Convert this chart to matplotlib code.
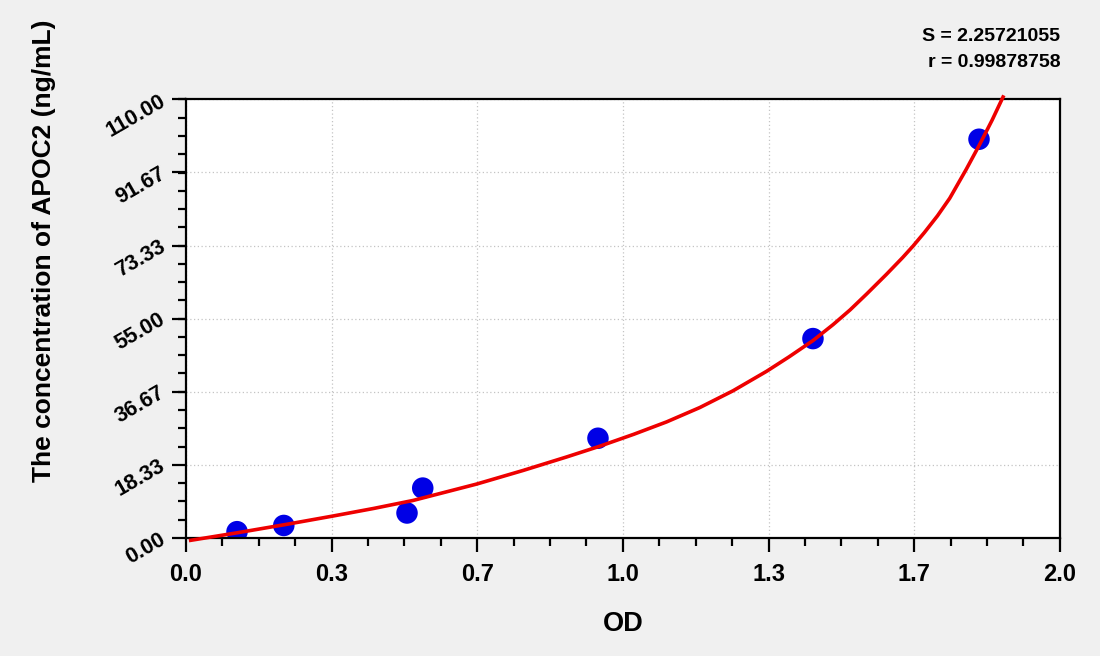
import matplotlib.pyplot as plt
from matplotlib.ticker import AutoMinorLocator

# ── data ──────────────────────────────────────────────────────────────────
od_points = [0.117, 0.224, 0.506, 0.542, 0.943, 1.435, 1.815]
conc_points = [1.5625, 3.125, 6.25, 12.5, 25.0, 50.0, 100.0]

# fitted curve
curve_od = [0.011, 0.118, 0.230, 0.337, 0.430, 0.520, 0.665, 0.771, 0.871,
            0.947, 1.025, 1.100, 1.176, 1.252, 1.329, 1.380, 1.435, 1.481,
            1.520, 1.558, 1.603, 1.640, 1.664, 1.690, 1.720, 1.748, 1.786,
            1.817, 1.845, 1.870]
curve_conc = [-0.6, 1.3, 3.4, 5.5, 7.4, 9.4, 13.5, 16.9, 20.3,
              23.0, 26.0, 29.1, 32.7, 36.9, 41.8, 45.4, 49.5, 53.5,
              57.2, 61.2, 66.1, 70.3, 73.2, 76.6, 80.8, 85.2, 92.5,
              98.8, 104.8, 110.6]

x_ticks = [0.0, 1 / 3, 2 / 3, 1.0, 4 / 3, 5 / 3, 2.0]
x_labels = ["0.0", "0.3", "0.7", "1.0", "1.3", "1.7", "2.0"]
y_ticks = [0.0, 18.33, 36.67, 55.0, 73.33, 91.67, 110.0]
y_labels = ["0.00", "18.33", "36.67", "55.00", "73.33", "91.67", "110.00"]

s_text = "S = 2.25721055"
r_text = "r = 0.99878758"

# ── plot ──────────────────────────────────────────────────────────────────
plt.rcParams["font.family"] = ["Liberation Sans", "DejaVu Sans"]

fig = plt.figure(figsize=(11, 6.56), dpi=100, facecolor="#f0f0f0")
ax = fig.add_axes([0.169, 0.18, 0.7945, 0.6685])
ax.set_facecolor("white")

ax.plot(curve_od, curve_conc, color="#ee0000", linewidth=2.6,
        clip_on=False, zorder=3, solid_joinstyle="round")
ax.scatter(od_points, conc_points, s=240, color="#0000e6",
           edgecolors="none", zorder=2)

ax.set_xlim(0, 2.0)
ax.set_ylim(0, 110)
ax.set_xticks(x_ticks)
ax.set_xticklabels(x_labels, fontsize=17, fontweight="bold")
ax.set_yticks(y_ticks)
ax.set_yticklabels(y_labels, fontsize=15.5, fontweight="bold", rotation=30,
                   rotation_mode="anchor", ha="right", va="center")
ax.xaxis.set_minor_locator(AutoMinorLocator(4))
ax.yaxis.set_minor_locator(AutoMinorLocator(4))

ax.tick_params(which="major", direction="out", length=10, width=1.6,
               pad=6, top=False, right=False)
ax.tick_params(which="minor", direction="out", length=5.5, width=1.6,
               top=False, right=False)
ax.tick_params(axis="x", which="major", pad=8)
for sp in ax.spines.values():
    sp.set_linewidth(1.6)

ax.grid(which="major", color="#c4c4c4", linestyle=(0, (1, 2)), linewidth=0.9)
ax.set_axisbelow(True)

ax.set_xlabel("OD", fontsize=19.5, fontweight="bold", labelpad=18)
ax.set_ylabel("The concentration of APOC2 (ng/mL)", fontsize=19,
              fontweight="bold")
# label sits higher than the plot centre in the reference
ax.yaxis.set_label_coords(-0.149, 0.655)

fig.text(0.964, 0.945, s_text, ha="right", va="center",
         fontsize=14, fontweight="bold")
fig.text(0.964, 0.904, r_text, ha="right", va="center",
         fontsize=14, fontweight="bold")

plt.savefig("out.png", dpi=100, facecolor=fig.get_facecolor())
